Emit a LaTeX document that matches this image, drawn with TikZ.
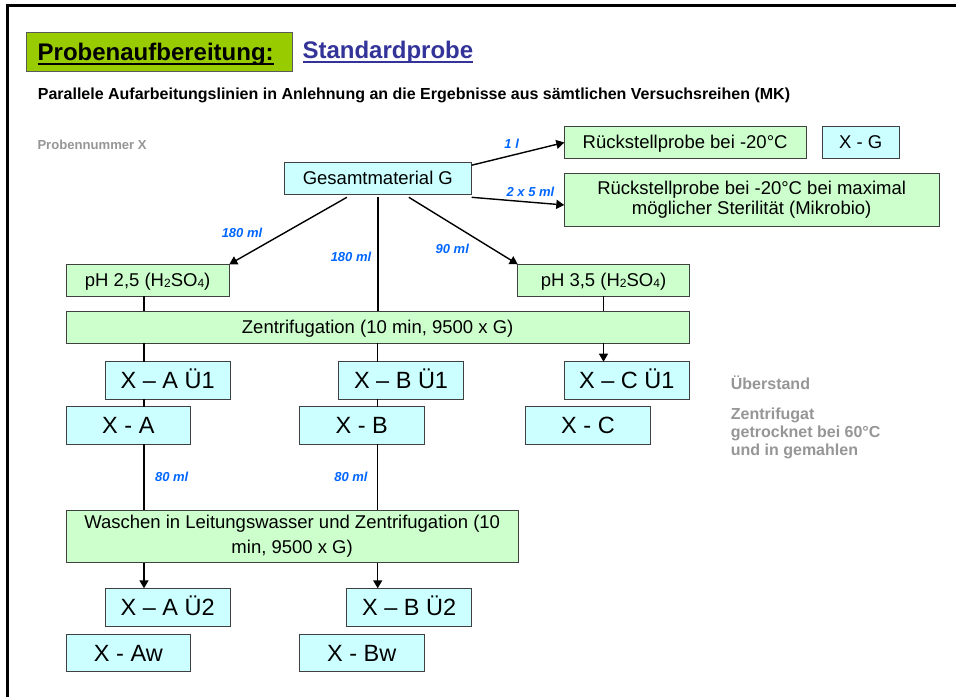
\documentclass[tikz,border=0pt]{standalone}
\usepackage{fontspec}
\setmainfont{Liberation Sans}
\usetikzlibrary{arrows.meta,calc}
\definecolor{boxgreen}{RGB}{204,255,204}
\definecolor{boxcyan}{RGB}{204,255,255}
\definecolor{boxline}{RGB}{64,64,64}
\definecolor{titlegreen}{RGB}{153,204,0}
\definecolor{titleline}{RGB}{90,90,90}
\definecolor{stdblue}{RGB}{51,51,153}
\definecolor{volblue}{RGB}{0,102,255}
\definecolor{notegray}{RGB}{150,150,150}
\newsavebox\ulbox
\newcommand\myul[1]{\sbox\ulbox{#1}\rlap{\rule[-5pt]{\wd\ulbox}{2pt}}\usebox\ulbox}
\newcommand\subs[1]{\raisebox{-0.8pt}{\fontsize{12}{12}\selectfont #1}}
\tikzset{
  boxbase/.style={draw=boxline, line width=1pt, inner sep=0pt, outer sep=0pt, anchor=north west,
    font=\fontsize{18.5}{20}\selectfont, align=center},
  oneline/.style={text height=16.7pt, text depth=3.9pt},
  gbox/.style={boxbase, fill=boxgreen},
  cbox/.style={boxbase, fill=boxcyan},
  bigtext/.style={font=\fontsize{23.5}{26}\selectfont, text height=21.3pt, text depth=5pt},
  sz/.style 2 args={minimum width=#1pt, minimum height=#2pt},
  conn/.style={draw=black, line width=1.4pt},
  arr/.style={-{Triangle[length=8pt,width=9pt]}},
  vol/.style={font=\fontsize{13}{15}\selectfont\bfseries\itshape, text=volblue, inner sep=0pt},
  note/.style={font=\fontsize{16}{18.2}\selectfont\bfseries, text=notegray, inner sep=0pt, anchor=base west, align=left},
}
\begin{document}
\begin{tikzpicture}[x=1pt,y=-1pt]
\useasboundingbox (0,0) rectangle (956,697);
% page frame (top and left edges)
\draw[line width=3pt] (7.5,697) -- (7.5,5.5) -- (956,5.5);

% headings
\node[draw=titleline, fill=titlegreen, line width=1pt, anchor=north west, outer sep=0pt,
  minimum height=38.7pt, text width=244pt, inner xsep=11pt, inner ysep=0pt, align=left,
  font=\fontsize{24}{28}\selectfont\bfseries, text height=17.2pt, text depth=0pt]
  (title) at (26.7,32.3) {\myul{Probenaufbereitung:}};
\node[anchor=base west, inner sep=0pt, font=\fontsize{24}{28}\selectfont\bfseries, text=stdblue]
  (std) at (302.3,58.3) {\myul{Standardprobe}};
\node[anchor=base west, inner sep=0pt, font=\fontsize{16}{18}\selectfont\bfseries]
  (sub) at (37.7,99) {Parallele Aufarbeitungslinien in Anlehnung an die Ergebnisse aus sämtlichen Versuchsreihen (MK)};
\node[anchor=base west, inner sep=0pt, font=\fontsize{13.1}{15}\selectfont\bfseries, text=notegray]
  (pnr) at (37.3,149.7) {Probennummer X};

% boxes
\node[cbox, oneline, sz={187.7}{31.6}] (gesamt) at (284,162.7) {Gesamtmaterial G};
\node[gbox, oneline, sz={241.7}{31.6}] (rueck1) at (564.3,126.7) {Rückstellprobe bei -20°C};
\node[cbox, oneline, sz={77.3}{31.6}] (xg) at (822,126.7) {X - G};
\node[gbox, sz={374.7}{53.4}] (rueck2) at (564.3,173.3) {Rückstellprobe bei -20°C bei maximal\\möglicher Sterilität (Mikrobio)};
\node[gbox, oneline, sz={163.3}{31.7}] (ph25) at (66,264.3) {pH 2,5 (H\subs{2}SO\subs{4})};
\node[gbox, oneline, sz={171.6}{31.7}] (ph35) at (517.7,264.3) {pH 3,5 (H\subs{2}SO\subs{4})};
\node[gbox, oneline, sz={623.3}{32}] (zentr) at (66,311.3) {Zentrifugation (10 min, 9500 x G)};
\node[cbox, bigtext, sz={124.7}{37.6}] (xa1) at (105.3,361.7) {X – A Ü1};
\node[cbox, bigtext, sz={124.7}{37.6}] (xb1) at (338.7,361.7) {X – B Ü1};
\node[cbox, bigtext, sz={125}{37.6}] (xc1) at (564.3,361.7) {X – C Ü1};
\node[cbox, bigtext, sz={124.7}{37.6}] (xa) at (66,406.7) {X - A};
\node[cbox, bigtext, sz={125}{37.6}] (xb) at (299.3,406.7) {X - B};
\node[cbox, bigtext, sz={124.6}{37.6}] (xc) at (525.7,406.7) {X - C};
\node[gbox, sz={452.3}{52.7}, font=\fontsize{18.5}{24.5}\selectfont] (wasch) at (66,510) {Waschen in Leitungswasser und Zentrifugation (10\\min, 9500 x G)};
\node[cbox, bigtext, sz={124.7}{38.4}] (xa2) at (105.3,588.3) {X – A Ü2};
\node[cbox, bigtext, sz={125}{38.4}] (xb2) at (346.7,588.3) {X – B Ü2};
\node[cbox, bigtext, sz={124.7}{37.7}] (xaw) at (66,634) {X - Aw};
\node[cbox, bigtext, sz={125}{37.7}] (xbw) at (299.3,634) {X - Bw};

% side notes
\node[note] (ueber) at (730.7,389.3) {Überstand};
\node[note] (zfg) at (730.7,455.7) {Zentrifugat\\getrocknet bei 60°C\\und in gemahlen};

% column coordinates
\coordinate (colA) at (144,0);
\coordinate (colB) at (377.7,0);

% connectors from Gesamtmaterial
\draw[conn,arr] ([yshift=-2.5pt]gesamt.north east) -- (rueck1.west);
\draw[conn,arr] ([yshift=-3pt]gesamt.south east) -- ([yshift=-5pt]rueck2.west);
\draw[conn,arr] ([xshift=-31pt,yshift=-3pt]gesamt.south) -- (ph25.north east);
\draw[conn] ([yshift=-3pt]gesamt.south) -- (zentr.north -| gesamt.south);
\draw[conn,arr] ([xshift=31pt,yshift=-3pt]gesamt.south) -- (ph35.north west);

% pH to Zentrifugation
\draw[conn] (ph25.south -| colA) -- (zentr.north -| colA);
\draw[conn] (ph35.south) -- (zentr.north -| ph35.south);

% column A
\draw[conn] (zentr.south -| colA) -- (xa1.north -| colA);
\draw[conn] (xa1.south -| colA) -- (xa.north -| colA);
\draw[conn] (xa.south -| colA) -- (wasch.north -| colA);
\draw[conn,arr] (wasch.south -| colA) -- (xa2.north -| colA);
% column B
\draw[conn] (zentr.south -| colB) -- (xb1.north -| colB);
\draw[conn] (xb1.south -| colB) -- (xb.north -| colB);
\draw[conn] (xb.south -| colB) -- (wasch.north -| colB);
\draw[conn,arr] (wasch.south -| colB) -- (xb2.north -| colB);
% column C
\draw[conn,arr] (zentr.south -| ph35.south) -- (xc1.north -| ph35.south);

% volume labels
\node[vol] (v1) at (511.7,144) {1 l};
\node[vol] (v2) at (530.5,191.7) {2 x 5 ml};
\node[vol] (v3) at (242,233.3) {180 ml};
\node[vol] (v4) at (351,256.7) {180 ml};
\node[vol] (v5) at (452.3,249) {90 ml};
\node[vol] (v6) at (171.7,476.7) {80 ml};
\node[vol] (v7) at (351,476.7) {80 ml};
\end{tikzpicture}
\end{document}
